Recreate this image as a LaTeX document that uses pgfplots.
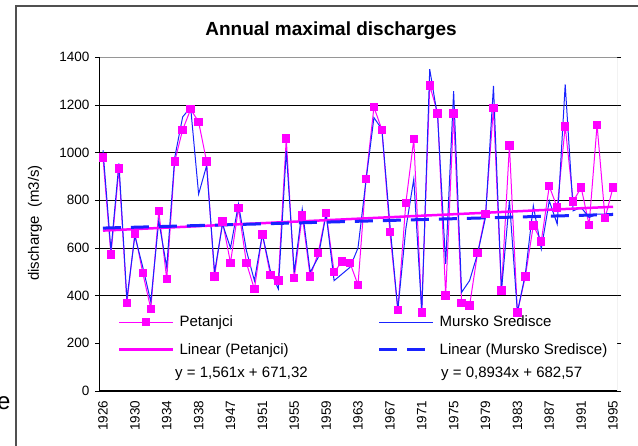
\documentclass[border=0pt]{standalone}
\usepackage{pgfplots}
\pgfplotsset{compat=1.18}
\usepackage{fontspec}
\setmainfont{Liberation Sans}

\definecolor{pet}{RGB}{255,0,255}
\definecolor{mur}{RGB}{25,35,255}
\definecolor{frame}{RGB}{80,80,80}
\definecolor{border}{RGB}{150,150,150}

% annual maximal discharges, categories 0..64 (1926 ... 1995)
\pgfplotstableread{
i  pet   mur
0  979   1010
1  572   589
2  933   955
3  370   386
4  661   651
5  494   519
6  345   375
7  755   714
8  469   519
9  963   979
10 1096  1150
11 1182  1190
12 1129  826
13 963   945
14 480   498
15 711   700
16 538   600
17 767   784
18 537   589
19 427   463
20 657   658
21 487   505
22 463   428
23 1059  1007
24 474   498
25 737   763
26 480   498
27 578   560
28 748   742
29 498   463
30 544   491
31 537   519
32 445   600
33 890   882
34 1191  1147
35 1096  1098
36 668   700
37 340   340
38 788   680
39 1056  889
40 330   330
41 1282  1350
42 1165  1147
43 400   533
44 1165  1258
45 370   414
46 358   463
47 578   575
48 742   728
49 1188  1280
50 421   420
51 1030  800
52 330   330
53 481   491
54 695   777
55 628   596
56 859   798
57 770   700
58 1110  1286
59 795   756
60 854   770
61 697   728
62 1116  742
63 725   742
64 854   745
}\discharges

\begin{document}
\begin{tikzpicture}[x=1pt,y=1pt]
\useasboundingbox (0,0) rectangle (638,446);
% chart frame
\draw[frame, line width=1.4pt] (16,-20) -- (16,440) -- (660,440);
\node[anchor=west, inner sep=0pt, font=\fontsize{24}{24}\selectfont] at (-3,43) {e};

\begin{axis}[
  at={(99pt,55pt)}, anchor=south west,
  width=518pt, height=333.7pt, scale only axis,
  xmin=-0.5, xmax=64.5, ymin=0, ymax=1400,
  axis line style={draw=none},
  ytick={0,200,...,1400},
  ymajorgrids, grid style={black, line width=0.8pt},
  tick align=outside,
  major tick length=4pt,
  tick style={black, line width=0.8pt},
  xtick={0,4,...,64},
  xticklabels={1926,1930,1934,1938,1947,1951,1955,1959,1963,1967,1971,1975,1979,1983,1987,1991,1995},
  x tick style={draw=none},
  extra x ticks={-0.5,4.5,...,64.5},
  extra x tick labels={},
  extra x tick style={grid=none, tick style={draw=black, line width=0.8pt}},
  /pgf/number format/assume math mode=true,
  /pgf/number format/1000 sep={},
  yticklabel style={font=\fontsize{13.5}{14}\selectfont, xshift=-2pt},
  xticklabel style={font=\fontsize{13.5}{14}\selectfont, rotate=90, anchor=east, xshift=-2pt},
  legend columns=2,
  legend cell align=left,
  legend image code/.code={\draw[mark repeat=2,mark phase=2,#1] plot coordinates {(0pt,0pt) (27pt,0pt) (54pt,0pt)};},
  legend style={draw=none, fill=none, inner sep=0pt, outer sep=0pt,
    at={(axis description cs:0.0367,0.225)}, anchor=north west,
    font=\fontsize{15}{18}\selectfont, nodes={inner sep=0pt},
    row sep=15pt,
    /tikz/every odd column/.style={column sep=5pt},
    /tikz/column 2/.style={column sep=89pt}},
]
\addplot[pet, line width=1pt, mark=square*, mark size=3.7pt, mark options={solid}]
  table[x=i, y=pet] {\discharges};
\addlegendentry{Petanjci}
\addplot[mur, line width=1pt] table[x=i, y=mur] {\discharges};
\addlegendentry{Mursko Sredisce}
\addplot[pet, line width=2.5pt] coordinates {(0,672.9) (64,772.8)};
\addlegendentry{Linear (Petanjci)}
\addplot[mur, line width=3pt, dash pattern=on 18pt off 10pt] coordinates {(0,683.5) (64,740.6)};
\addlegendentry{Linear (Mursko Sredisce)}
% white legend area over the lower part of the plot
\fill[white] (axis cs:-0.5,0) rectangle (axis cs:64.5,350);
% plot area border
\draw[border, line width=1pt] (rel axis cs:0,1) -- (rel axis cs:1,1) -- (rel axis cs:1,0);
\draw[black, line width=1pt] (rel axis cs:0,1) -- (rel axis cs:0,0) -- (rel axis cs:1,0);
\end{axis}

\node[font=\fontsize{19}{21}\selectfont\bfseries] at (331,415) {Annual maximal discharges};
\node[rotate=90, font=\fontsize{15}{17}\selectfont] at (35,223) {discharge\ \ (m3/s)};
\node[anchor=west, inner sep=0pt, font=\fontsize{15}{18}\selectfont] at (175,72) {y = 1,561x + 671,32};
\node[anchor=west, inner sep=0pt, font=\fontsize{15}{18}\selectfont] at (441,72) {y = 0,8934x + 682,57};
\end{tikzpicture}
\end{document}
